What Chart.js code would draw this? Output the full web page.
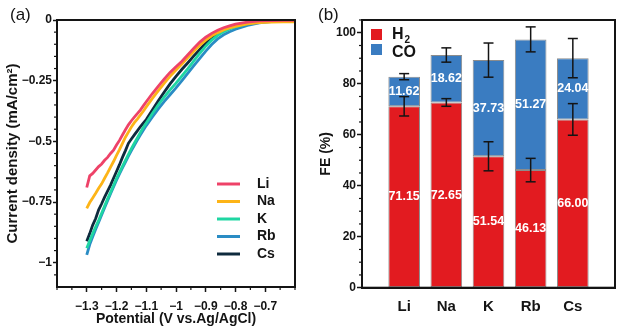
<!DOCTYPE html>
<html><head><meta charset="utf-8">
<script src="https://cdn.jsdelivr.net/npm/chart.js@4"></script>
<style>
html,body{margin:0;padding:0;background:#fff;width:625px;height:333px;overflow:hidden}
#ca{position:absolute;left:0;top:0}
#cb{position:absolute;left:310px;top:0}
</style></head><body>
<canvas id="ca" width="310" height="333"></canvas>
<canvas id="cb" width="315" height="333"></canvas>
<script>
// ---------- (a) LSV curves ----------
const potentials = [-1.30,-1.29,-1.28,-1.27,-1.26,-1.25,-1.24,-1.23,-1.22,-1.21,-1.20,-1.19,-1.18,-1.17,-1.16,-1.15,-1.14,-1.13,-1.12,-1.11,-1.10,-1.08,-1.06,-1.04,-1.02,-1.00,-0.98,-0.96,-0.94,-0.92,-0.90,-0.88,-0.86,-0.84,-0.82,-0.80,-0.76,-0.72,-0.68,-0.64,-0.60];
const liCurrent = [-0.690,-0.642,-0.632,-0.618,-0.604,-0.593,-0.578,-0.566,-0.550,-0.536,-0.515,-0.496,-0.474,-0.452,-0.432,-0.415,-0.400,-0.386,-0.371,-0.354,-0.337,-0.304,-0.273,-0.244,-0.216,-0.193,-0.170,-0.143,-0.116,-0.091,-0.071,-0.055,-0.042,-0.032,-0.024,-0.017,-0.009,-0.004,-0.002,-0.001,-0.001];
const naCurrent = [-0.776,-0.752,-0.733,-0.714,-0.693,-0.675,-0.652,-0.630,-0.606,-0.583,-0.558,-0.534,-0.508,-0.483,-0.462,-0.441,-0.423,-0.408,-0.392,-0.376,-0.358,-0.324,-0.292,-0.261,-0.232,-0.206,-0.181,-0.155,-0.129,-0.104,-0.083,-0.065,-0.052,-0.041,-0.033,-0.026,-0.016,-0.011,-0.009,-0.008,-0.008];
const kCurrent = [-0.940,-0.910,-0.880,-0.852,-0.825,-0.796,-0.766,-0.737,-0.710,-0.682,-0.653,-0.628,-0.603,-0.578,-0.554,-0.530,-0.508,-0.486,-0.464,-0.443,-0.424,-0.386,-0.350,-0.318,-0.288,-0.260,-0.230,-0.200,-0.168,-0.137,-0.108,-0.083,-0.063,-0.048,-0.037,-0.028,-0.015,-0.008,-0.004,-0.003,-0.002];
const rbCurrent = [-0.968,-0.925,-0.893,-0.862,-0.833,-0.803,-0.773,-0.744,-0.716,-0.688,-0.660,-0.634,-0.609,-0.585,-0.561,-0.538,-0.516,-0.495,-0.474,-0.454,-0.435,-0.400,-0.367,-0.336,-0.308,-0.280,-0.250,-0.219,-0.188,-0.158,-0.128,-0.101,-0.078,-0.061,-0.048,-0.038,-0.022,-0.012,-0.007,-0.005,-0.004];
const csCurrent = [-0.912,-0.880,-0.845,-0.818,-0.782,-0.757,-0.730,-0.705,-0.680,-0.652,-0.624,-0.596,-0.566,-0.538,-0.508,-0.490,-0.473,-0.457,-0.440,-0.425,-0.410,-0.372,-0.334,-0.298,-0.263,-0.232,-0.203,-0.176,-0.148,-0.121,-0.095,-0.074,-0.057,-0.044,-0.034,-0.026,-0.014,-0.007,-0.004,-0.002,-0.001];
const seriesNames = ['Li','Na','K','Rb','Cs'];
const xTickValuesA = [-1.3,-1.2,-1.1,-1,-0.9,-0.8,-0.7];
const xTickLabelsA = ['\u22121.3','\u22121.2','\u22121.1','\u22121','\u22120.9','\u22120.8','\u22120.7'];
const yTickValuesA = [0,-0.25,-0.5,-0.75,-1];
const yTickLabelsA = ['0','\u22120.25','\u22120.5','\u22120.75','\u22121'];

// ---------- (b) Faradaic efficiency ----------
const categoriesB = ['Li','Na','K','Rb','Cs'];
const feH2 = [71.15,72.65,51.54,46.13,66.00];
const feCO = [11.62,18.62,37.73,51.27,24.04];
const errH2 = [3.8,1.5,5.7,4.6,6.2];
const errCO = [1.2,2.8,6.7,4.9,7.7];
const yTickValuesB = [0,20,40,60,80,100];
const yTickLabelsB = ['0','20','40','60','80','100'];

// ---------- styles ----------
const FF = "'Liberation Sans', Arial, Helvetica, sans-serif";
const INK = '#141414';
const lineColors = ['#EE4268','#FDB417','#1FD6A2','#2A8CC4','#0E2A3D'];
const drawOrder = [0,1,2,4,3];
const curves = [liCurrent,naCurrent,kCurrent,rbCurrent,csCurrent];
const RED = '#E21B20', BLUE = '#3A7CC1';

function line(ctx,x1,y1,x2,y2){ctx.beginPath();ctx.moveTo(x1,y1);ctx.lineTo(x2,y2);ctx.stroke();}
function near(arr,v){return arr.some(t=>Math.abs(t-v)<1e-6);}

const decoA = {
  id:'decoA',
  afterDraw(c){
    const ctx=c.ctx, a=c.chartArea, xs=c.scales.x, ys=c.scales.y;
    ctx.save();
    ctx.strokeStyle=INK; ctx.lineWidth=1.2;
    for(let k=-28;k<=-12;k++){const v=k*0.05; if(near(xTickValuesA,v))continue; const px=xs.getPixelForValue(v); line(ctx,px,a.bottom,px,a.bottom+3);}
    for(let k=-21;k<=-1;k++){const v=k*0.05; if(near(yTickValuesA,v))continue; const py=ys.getPixelForValue(v); line(ctx,a.left-3,py,a.left,py);}
    ctx.lineWidth=2; ctx.strokeRect(a.left,a.top,a.right-a.left,a.bottom-a.top);
    // legend
    ctx.font='bold 14px '+FF; ctx.textBaseline='middle'; ctx.textAlign='left';
    seriesNames.forEach((n,i)=>{
      const y=184+i*17.5;
      ctx.strokeStyle=lineColors[i]; ctx.lineWidth=3; line(ctx,217,y,240,y);
      ctx.fillStyle=INK; ctx.fillText(n,257,y);
    });
    ctx.font='17px '+FF; ctx.fillStyle=INK; ctx.fillText('(a)',10,15);
    ctx.restore();
  }
};

new Chart(document.getElementById('ca'),{
  type:'line',
  data:{datasets:seriesNames.map((n,i)=>({label:n,data:potentials.map((p,j)=>({x:p,y:curves[i][j]})),borderColor:lineColors[i],borderWidth:2.8,pointRadius:0,tension:0,fill:false,order:drawOrder[i]}))},
  options:{
    responsive:false,animation:false,events:[],
    layout:{padding:{left:0,top:20,right:15,bottom:0}},
    plugins:{legend:{display:false},tooltip:{enabled:false}},
    scales:{
      x:{type:'linear',min:-1.4,max:-0.6,
        afterBuildTicks:s=>{s.ticks=xTickValuesA.map(v=>({value:v}));},
        afterFit:s=>{s.height=46;},
        ticks:{callback:(v,i)=>xTickLabelsA[i],font:{family:FF,size:12,weight:'bold'},color:INK,maxRotation:0,autoSkip:false,padding:7},
        grid:{drawOnChartArea:false,tickLength:5,tickWidth:1.5,tickColor:INK},
        border:{color:INK,width:2},
        title:{display:true,text:'Potential (V vs.Ag/AgCl)',font:{family:FF,size:14,weight:'bold'},color:INK,padding:{top:0,bottom:5}}},
      y:{type:'linear',min:-1.1,max:0,
        afterBuildTicks:s=>{s.ticks=yTickValuesA.map(v=>({value:v}));},
        afterFit:s=>{s.width=57;},
        ticks:{callback:(v,i)=>yTickLabelsA[i],font:{family:FF,size:12,weight:'bold'},color:INK,padding:1,autoSkip:false},
        grid:{drawOnChartArea:false,tickLength:4,tickWidth:1.5,tickColor:INK},
        border:{color:INK,width:2},
        title:{display:true,text:'Current density (mA/cm\u00B2)',font:{family:FF,size:15,weight:'bold'},color:INK,padding:{top:4,bottom:0}}}
    }
  },
  plugins:[decoA]
});

const decoB = {
  id:'decoB',
  afterDatasetsDraw(c){
    const ctx=c.ctx, xs=c.scales.x, ys=c.scales.y;
    ctx.save();
    ctx.strokeStyle=INK; ctx.lineWidth=1.5;
    categoriesB.forEach((cat,i)=>{
      const px=xs.getPixelForValue(i+1);
      const bars=[[feH2[i],errH2[i]],[feH2[i]+feCO[i],errCO[i]]];
      bars.forEach(([v,e])=>{
        const y1=ys.getPixelForValue(v+e), y2=ys.getPixelForValue(v-e);
        line(ctx,px,y1,px,y2); line(ctx,px-5,y1,px+5,y1); line(ctx,px-5,y2,px+5,y2);
      });
    });
    ctx.fillStyle='#fff'; ctx.font='bold 12.5px '+FF; ctx.textAlign='center'; ctx.textBaseline='middle';
    categoriesB.forEach((cat,i)=>{
      const px=xs.getPixelForValue(i+1);
      ctx.fillText(feH2[i].toFixed(2),px,ys.getPixelForValue(feH2[i]/2));
      ctx.fillText(feCO[i].toFixed(2),px,ys.getPixelForValue(feH2[i]+feCO[i]/2));
    });
    ctx.restore();
  },
  afterDraw(c){
    const ctx=c.ctx, a=c.chartArea, ys=c.scales.y;
    ctx.save();
    ctx.strokeStyle=INK; ctx.lineWidth=1.2;
    for(let k=1;k<=21;k++){const v=k*5; if(near(yTickValuesB,v))continue; const py=ys.getPixelForValue(v); line(ctx,a.left-3,py,a.left,py);}
    ctx.lineWidth=2; ctx.strokeRect(a.left,a.top,a.right-a.left,a.bottom-a.top);
    // legend
    ctx.fillStyle=RED; ctx.fillRect(61,29,11,11);
    ctx.fillStyle=BLUE; ctx.fillRect(61,44,11,11);
    ctx.fillStyle=INK; ctx.textBaseline='middle'; ctx.textAlign='left';
    ctx.font='bold 16px '+FF; ctx.fillText('H',82,35);
    const wH=ctx.measureText('H').width;
    ctx.font='bold 10px '+FF; ctx.fillText('2',82+wH+1,40);
    ctx.font='bold 16px '+FF; ctx.fillText('CO',82,53);
    ctx.font='17px '+FF; ctx.fillText('(b)',8,15);
    ctx.restore();
  }
};

const padN = arr => [null, ...arr, null];
new Chart(document.getElementById('cb'),{
  type:'bar',
  data:{labels:['',...categoriesB,''],datasets:[
    {label:'H2',data:padN(feH2),backgroundColor:RED,borderColor:'#8c8c8c',borderWidth:1,borderSkipped:false,categoryPercentage:1,barPercentage:0.75},
    {label:'CO',data:padN(feCO),backgroundColor:BLUE,borderColor:'#8c8c8c',borderWidth:1,borderSkipped:false,categoryPercentage:1,barPercentage:0.75}
  ]},
  options:{
    responsive:false,animation:false,events:[],
    layout:{padding:{left:0,top:20,right:10,bottom:0}},
    plugins:{legend:{display:false},tooltip:{enabled:false}},
    scales:{
      x:{stacked:true,offset:false,
        afterFit:s=>{s.height=45.3;},
        grid:{drawOnChartArea:false,drawTicks:false},
        border:{color:INK,width:2},
        ticks:{font:{family:FF,size:15,weight:'bold'},color:INK,padding:10,autoSkip:false,maxRotation:0}},
      y:{stacked:true,min:0,max:105,
        afterBuildTicks:s=>{s.ticks=yTickValuesB.map(v=>({value:v}));},
        afterFit:s=>{s.width=52;},
        ticks:{callback:(v,i)=>yTickLabelsB[i],font:{family:FF,size:12,weight:'bold'},color:INK,padding:1,autoSkip:false},
        grid:{drawOnChartArea:false,tickLength:5,tickWidth:1.5,tickColor:INK},
        border:{color:INK,width:2},
        title:{display:true,text:'FE (%)',font:{family:FF,size:14,weight:'bold'},color:INK,padding:{top:8,bottom:0}}}
    }
  },
  plugins:[decoB]
});
</script>
</body></html>
